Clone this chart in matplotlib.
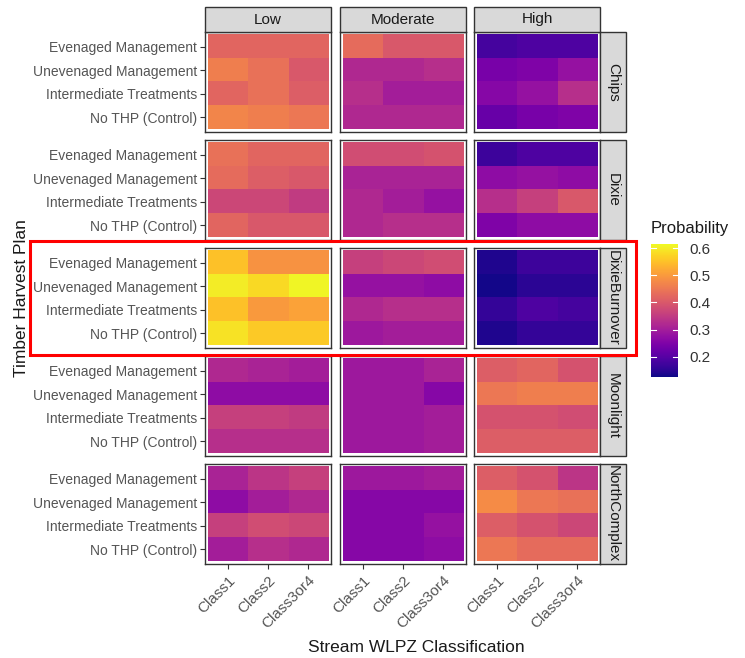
import matplotlib
matplotlib.use("Agg")
import matplotlib.pyplot as plt
import numpy as np
from matplotlib.patches import Rectangle
from matplotlib.colors import Normalize
from matplotlib.cm import ScalarMappable

plt.rcParams['font.family'] = ['Liberation Sans', 'DejaVu Sans']

severity = ["Low", "Moderate", "High"]
fires = ["Chips", "Dixie", "DixieBurnover", "Moonlight", "NorthComplex"]
thp = ["Evenaged Management", "Unevenaged Management", "Intermediate Treatments", "No THP (Control)"]
classes = ["Class1", "Class2", "Class3or4"]

# values[fire][severity] -> rows in thp order, columns in classes order
chips_low = [[0.42, 0.42, 0.42], [0.46, 0.44, 0.40], [0.42, 0.44, 0.41], [0.47, 0.46, 0.45]]
chips_mod = [[0.43, 0.40, 0.40], [0.32, 0.32, 0.33], [0.33, 0.30, 0.30], [0.32, 0.32, 0.32]]
chips_high = [[0.18, 0.19, 0.19], [0.24, 0.25, 0.28], [0.26, 0.28, 0.33], [0.22, 0.24, 0.25]]
dixie_low = [[0.44, 0.42, 0.42], [0.43, 0.41, 0.40], [0.37, 0.37, 0.35], [0.42, 0.40, 0.40]]
dixie_mod = [[0.38, 0.38, 0.39], [0.31, 0.31, 0.31], [0.32, 0.30, 0.28], [0.32, 0.33, 0.33]]
dixie_high = [[0.17, 0.19, 0.19], [0.27, 0.28, 0.27], [0.33, 0.36, 0.40], [0.25, 0.27, 0.27]]
dixieb_low = [[0.55, 0.49, 0.49], [0.60, 0.58, 0.61], [0.55, 0.50, 0.51], [0.59, 0.56, 0.56]]
dixieb_mod = [[0.36, 0.37, 0.38], [0.28, 0.28, 0.27], [0.32, 0.33, 0.33], [0.29, 0.30, 0.30]]
dixieb_high = [[0.14, 0.17, 0.17], [0.13, 0.15, 0.15], [0.16, 0.19, 0.18], [0.14, 0.16, 0.16]]
moon_low = [[0.32, 0.31, 0.30], [0.27, 0.27, 0.27], [0.36, 0.36, 0.35], [0.33, 0.33, 0.33]]
moon_mod = [[0.29, 0.29, 0.31], [0.29, 0.29, 0.26], [0.29, 0.29, 0.30], [0.29, 0.29, 0.30]]
moon_high = [[0.41, 0.42, 0.39], [0.45, 0.46, 0.46], [0.39, 0.39, 0.38], [0.41, 0.41, 0.41]]
north_low = [[0.31, 0.34, 0.36], [0.27, 0.30, 0.32], [0.36, 0.38, 0.37], [0.30, 0.33, 0.32]]
north_mod = [[0.29, 0.29, 0.30], [0.26, 0.26, 0.26], [0.26, 0.26, 0.28], [0.26, 0.26, 0.27]]
north_high = [[0.41, 0.39, 0.34], [0.48, 0.45, 0.44], [0.41, 0.39, 0.37], [0.45, 0.43, 0.43]]

values = {
    "Chips": [chips_low, chips_mod, chips_high],
    "Dixie": [dixie_low, dixie_mod, dixie_high],
    "DixieBurnover": [dixieb_low, dixieb_mod, dixieb_high],
    "Moonlight": [moon_low, moon_mod, moon_high],
    "NorthComplex": [north_low, north_mod, north_high],
}

cbar_ticks = [0.2, 0.3, 0.4, 0.5, 0.6]
vmin, vmax = 0.125, 0.615

W, H = 745, 658
fig = plt.figure(figsize=(W / 100, H / 100), dpi=100)
cmap = plt.get_cmap("plasma")
norm = Normalize(vmin=vmin, vmax=vmax)

def fx(px):
    return px / W

def fy(py):
    return 1 - py / H

col_left = [205, 340, 474]
pw = 126
row_top = [32, 140, 248, 356, 464]
ph = 100
tick_color = "#555555"
border = "#333333"

for r, fire in enumerate(fires):
    for c, sev in enumerate(severity):
        ax = fig.add_axes([fx(col_left[c]), fy(row_top[r] + ph), pw / W, ph / H])
        data = np.array(values[fire][c])
        ax.imshow(data, cmap=cmap, norm=norm, aspect="auto",
                  extent=(-0.5, 2.5, 3.5, -0.5), interpolation="nearest")
        ax.set_xlim(-0.57, 2.57)
        ax.set_ylim(3.62, -0.62)
        ax.set_xticks(range(3))
        ax.set_yticks(range(4))
        for s in ax.spines.values():
            s.set_color(border)
            s.set_linewidth(1.0)
        ax.tick_params(axis="both", length=3.5, width=0.8, color=border,
                       labelcolor=tick_color, labelsize=10, pad=2)
        if c == 0:
            ax.set_yticklabels(thp)
        else:
            ax.set_yticklabels([])
            ax.tick_params(axis="y", length=0)
        if r == len(fires) - 1:
            ax.set_xticklabels(classes, rotation=45, ha="right", rotation_mode="anchor",
                               fontsize=11)
            ax.tick_params(axis="x", pad=3)
        else:
            ax.set_xticklabels([])
            ax.tick_params(axis="x", length=0)
        # top strips
        if r == 0:
            fig.patches.append(Rectangle((fx(col_left[c]), fy(32)), pw / W, 25 / H,
                                         transform=fig.transFigure, facecolor="#d9d9d9",
                                         edgecolor=border, linewidth=1.0))
            fig.text(fx(col_left[c] + pw / 2), fy(19.5), sev, ha="center", va="center",
                     fontsize=11, color="#1a1a1a")
    # right strips
    fig.patches.append(Rectangle((fx(600), fy(row_top[r] + ph)), 26 / W, ph / H,
                                 transform=fig.transFigure, facecolor="#d9d9d9",
                                 edgecolor=border, linewidth=1.0))
    fig.text(fx(613), fy(row_top[r] + ph / 2), fire, ha="center", va="center",
             rotation=-90, fontsize=11, color="#1a1a1a")

# colorbar
cax = fig.add_axes([fx(651), fy(377), 27 / W, 133 / H])
sm = ScalarMappable(norm=norm, cmap=cmap)
cb = fig.colorbar(sm, cax=cax, ticks=cbar_ticks)
cb.outline.set_visible(False)
cax.tick_params(length=0, labelsize=11, labelcolor="#333333", pad=8)
cax.set_yticklabels([f"{t:.1f}" for t in cbar_ticks])
for t in cbar_ticks:
    cax.plot([0, 0.2], [t, t], color="white", lw=0.8, transform=cax.get_yaxis_transform())
    cax.plot([0.8, 1.0], [t, t], color="white", lw=0.8, transform=cax.get_yaxis_transform())
fig.text(fx(651), fy(228), "Probability", ha="left", va="center", fontsize=12, color="#1a1a1a")

# axis titles
fig.text(fx(22), fy(298), "Timber Harvest Plan", rotation=90, ha="center", va="center",
         fontsize=12.5, color="#1a1a1a")
fig.text(fx(416), fy(648), "Stream WLPZ Classification", ha="center", va="center",
         fontsize=12.5, color="#1a1a1a")

# red highlight box
fig.patches.append(Rectangle((fx(30), fy(355)), (636 - 30) / W, (355 - 241) / H,
                             transform=fig.transFigure, facecolor="none",
                             edgecolor="#ff0000", linewidth=2.2, zorder=10))

fig.savefig("out.png", dpi=100, facecolor="white")
